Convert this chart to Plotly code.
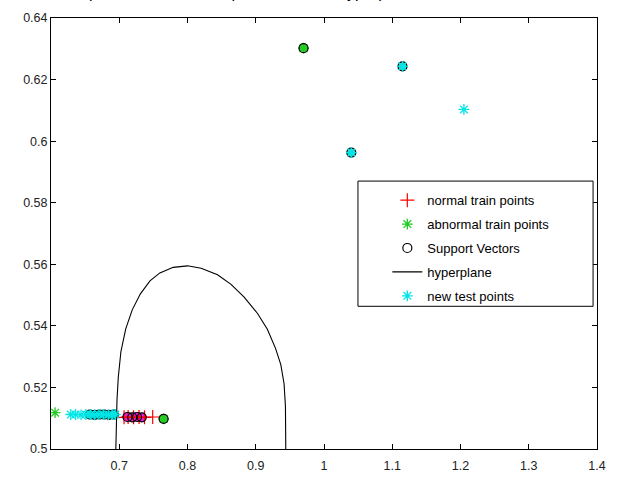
import plotly.graph_objects as go

# ---- data ----
normal_x = [0.707, 0.713, 0.721, 0.729, 0.737, 0.749]
normal_y = [0.5103, 0.5104, 0.5103, 0.5104, 0.5103, 0.5104]

abnormal_x = [0.606, 0.765, 0.970]
abnormal_y = [0.5118, 0.5098, 0.6302]

test_x = [0.629, 0.636, 0.644, 0.651, 0.658, 0.664, 0.670, 0.677, 0.684, 0.690, 0.694, 1.040, 1.115, 1.205]
test_y = [0.5112, 0.5112, 0.5111, 0.5112, 0.5112, 0.5111, 0.5112, 0.5112, 0.5111, 0.5112, 0.5112, 0.5963, 0.6243, 0.6103]

sv_x = [0.657, 0.664, 0.671, 0.678, 0.685, 0.692, 0.712, 0.719, 0.726, 0.733, 0.765, 0.970, 1.040, 1.115]
sv_y = [0.5112, 0.5111, 0.5112, 0.5112, 0.5111, 0.5112, 0.5104, 0.5103, 0.5104, 0.5103, 0.5098, 0.6302, 0.5963, 0.6243]
sv_fill = ["#00e5e5"] * 6 + ["#e020e0"] * 4 + ["#33cc33", "#33cc33", "#33d6d6", "#33d6d6"]

hyper_x = [0.695, 0.6955, 0.6967, 0.6986, 0.7024, 0.7095, 0.719, 0.731, 0.745, 0.7595, 0.779, 0.800,
           0.820, 0.844, 0.8638, 0.883, 0.9024, 0.917, 0.929, 0.9367, 0.9415, 0.9435, 0.944, 0.944]
hyper_y = [0.500, 0.508, 0.516, 0.5233, 0.5316, 0.539, 0.5452, 0.5504, 0.5546, 0.5572, 0.559, 0.5595,
           0.5587, 0.5566, 0.5535, 0.5493, 0.5441, 0.5389, 0.5327, 0.5274, 0.5212, 0.5139, 0.505, 0.500]

x_ticks = [0.7, 0.8, 0.9, 1.0, 1.1, 1.2, 1.3, 1.4]
y_ticks = [0.5, 0.52, 0.54, 0.56, 0.58, 0.6, 0.62, 0.64]

title_text = "Classification of train points and new test points with the hyperplane"

FONT = "Liberation Sans, Arial, sans-serif"

fig = go.Figure()

# fill of circled points (under the markers)
fig.add_trace(go.Scatter(x=sv_x, y=sv_y, mode="markers", showlegend=False, hoverinfo="skip",
                         marker=dict(symbol="circle", size=9, color=sv_fill, line=dict(width=0))))

fig.add_trace(go.Scatter(x=normal_x, y=normal_y, mode="markers", name="normal train points",
                         legendgroup="a",
                         marker=dict(symbol="cross-thin-open", size=10, color="red",
                                     line=dict(color="red", width=1.2))))
fig.add_trace(go.Scatter(x=abnormal_x, y=abnormal_y, mode="markers", name="abnormal train points",
                         legendgroup="b",
                         marker=dict(symbol="asterisk-open", size=9, color="#22cc22",
                                     line=dict(color="#22cc22", width=1.3))))
fig.add_trace(go.Scatter(x=sv_x, y=sv_y, mode="markers", name="Support Vectors",
                         legendgroup="c",
                         marker=dict(symbol="circle-open", size=9, color="black",
                                     line=dict(color="black", width=1.2))))
fig.add_trace(go.Scatter(x=hyper_x, y=hyper_y, mode="lines", name="hyperplane",
                         legendgroup="d", line=dict(color="black", width=1.1, shape="linear")))
fig.add_trace(go.Scatter(x=test_x, y=test_y, mode="markers", name="new test points",
                         legendgroup="e",
                         marker=dict(symbol="asterisk-open", size=9, color="#00e5e5",
                                     line=dict(color="#00e5e5", width=1.3))))

axis_common = dict(showgrid=False, zeroline=False, showline=True, linecolor="black", linewidth=1,
                   mirror="ticks", ticks="inside", ticklen=5, tickcolor="black",
                   tickfont=dict(family=FONT, size=12.5, color="#222222"))

fig.update_xaxes(range=[0.6, 1.4], tickvals=x_ticks, ticklabelstandoff=5, **axis_common)
fig.update_yaxes(range=[0.5, 0.64], tickvals=y_ticks, **axis_common)

fig.update_layout(
    width=617, height=484,
    margin=dict(l=51, r=11, t=18, b=22),
    paper_bgcolor="white", plot_bgcolor="white",
    font=dict(family=FONT, size=13, color="black"),
    showlegend=True,
    legend=dict(x=0.616, y=0.612, xanchor="left", yanchor="top",
                bgcolor="rgba(0,0,0,0)", borderwidth=0,
                traceorder="grouped", tracegroupgap=4,
                font=dict(family=FONT, size=13, color="black")),
    shapes=[dict(type="rect", xref="paper", yref="paper", x0=0.5622, x1=0.9928, y0=0.3311, y1=0.6216,
                 line=dict(color="black", width=1), fillcolor="white", layer="above")],
    annotations=[dict(text=title_text, xref="paper", yref="paper", x=0.674, y=1.034,
                      xanchor="right", yanchor="bottom", showarrow=False,
                      font=dict(family=FONT, size=16, color="black"))],
)

fig.write_html("out.html")
